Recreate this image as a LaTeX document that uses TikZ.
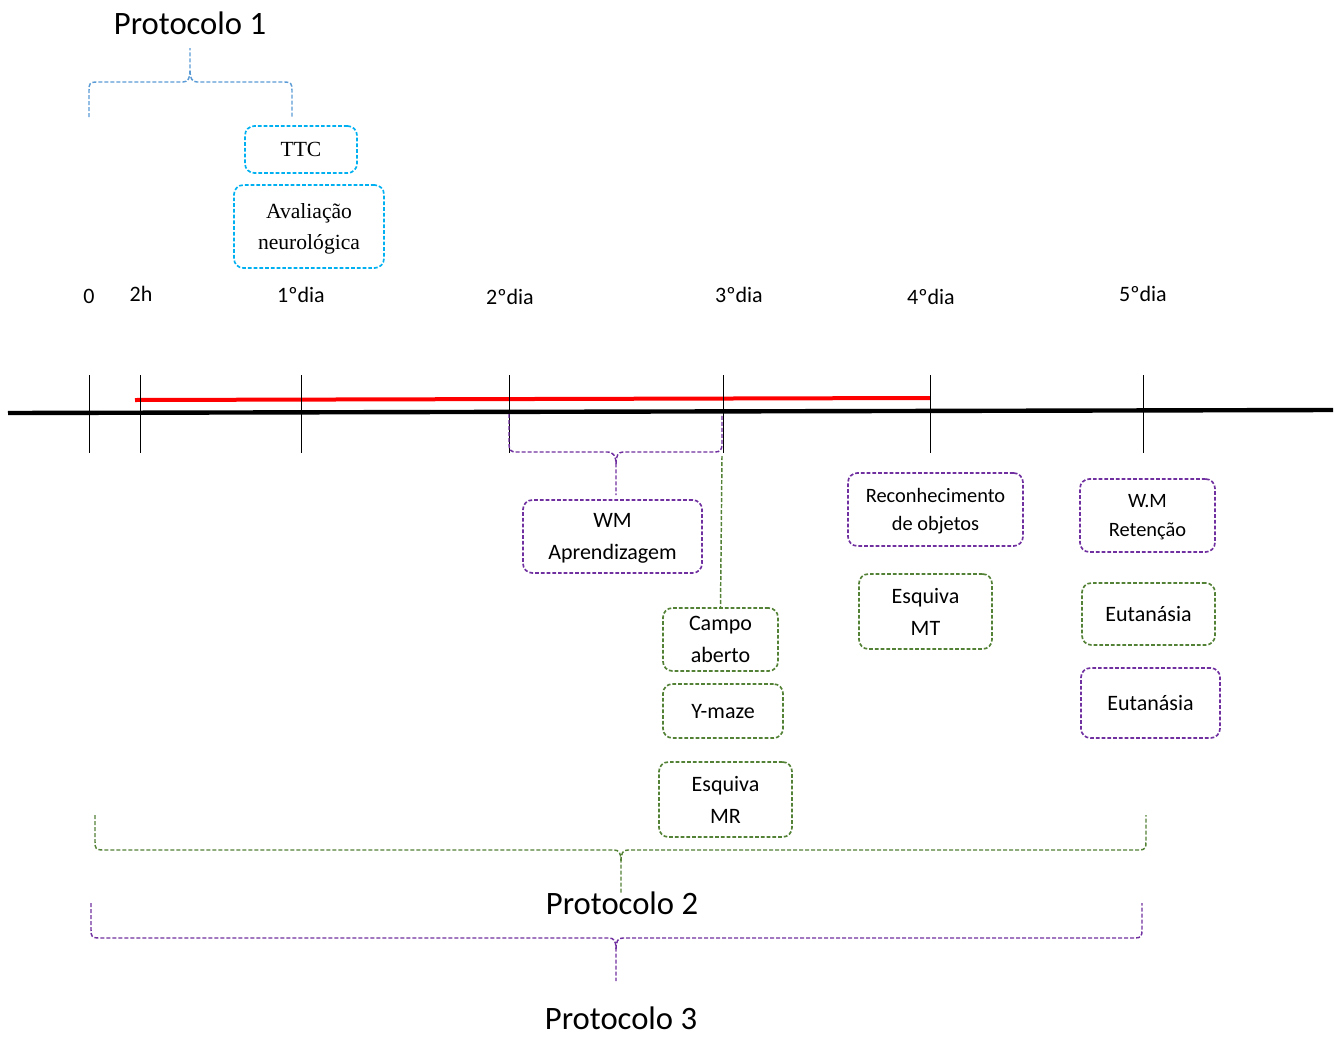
\documentclass[tikz,border=0pt]{standalone}
\usepackage{fontspec}
\setmainfont{Carlito}
\newfontfamily\tnr{Liberation Serif}
\definecolor{pblue}{HTML}{5B9BD5}
\definecolor{pcyan}{HTML}{00B0F0}
\definecolor{ppurple}{HTML}{7030A0}
\definecolor{pgreen}{HTML}{538135}
\begin{document}
\begin{tikzpicture}[x=0.75pt,y=-0.75pt,
  box/.style={draw, rounded corners=7pt, dash pattern=on 2.8pt off 1.5pt, line width=1.25pt,
    inner sep=0pt, align=center, text depth=0pt, font=\fontsize{16.5}{24}\selectfont},
  sbox/.style={box, font=\fontsize{15.3}{21.5}\selectfont},
  tbox/.style={box, font=\tnr\fontsize{16.2}{23.5}\selectfont},
  brace/.style={dash pattern=on 3pt off 1.5pt, line width=1.1pt},
  tickline/.style={line width=0.7pt},
  lbl/.style={font=\fontsize{16.5}{20}\selectfont, inner sep=0pt},
  proto/.style={font=\fontsize{24.5}{30}\selectfont, inner sep=0pt}]
\useasboundingbox (0,0) rectangle (1336,1039);

% main timeline
\coordinate (tlA) at (8,413);
\coordinate (tlB) at (1333,410);
\draw[line width=3.3pt] (tlA) -- (tlB);
% red line
\coordinate (rA) at (135,400);
\coordinate (rB) at (930,398);
\draw[red, line width=3pt] (rA) -- (rB);

% ticks
\foreach \n/\x in {t0/89, t1/140, t2/301, t3/509, t4/723, t5/930, t6/1143}{
  \coordinate (\n a) at (\x,375);
  \coordinate (\n b) at (\x,453);
  \draw[tickline] (\n a) -- (\n b);
}
\node[lbl] (l0) at (89,296) {0};
\node[lbl] (l1) at (141,294) {2h};
\node[lbl] (l2) at (301,295) {1ºdia};
\node[lbl] (l3) at (510,297) {2ºdia};
\node[lbl] (l4) at (739,295) {3ºdia};
\node[lbl] (l5) at (931,297) {4ºdia};
\node[lbl] (l6) at (1143,294) {5ºdia};

% Protocolo 1
\node[proto] (p1) at (190,23) {Protocolo 1};
\coordinate (b1L) at (89,117);
\coordinate (b1T) at (190,48);
\coordinate (b1R) at (292,117);
\draw[brace, pblue] (b1L) -- (89,90) .. controls (89,84) and (90,82) .. (96,82) -- (183,82)
  .. controls (188,82) and (190,78) .. (190,71) -- (b1T);
\draw[brace, pblue] (190,71) .. controls (190,78) and (192,82) .. (197,82) -- (285,82)
  .. controls (291,82) and (292,84) .. (292,90) -- (b1R);

\node[tbox, pcyan, minimum width=84pt, minimum height=35.25pt] (ttc) at (301,149.5) {\color{black}TTC};
\node[tbox, pcyan, minimum width=112.5pt, minimum height=62.25pt] (aval) at (309,226.5) {\color{black}Avaliação\\\color{black}neurológica};

% WM brace
\coordinate (bwL) at (509,414);
\coordinate (bwR) at (722,414);
\node[box, ppurple, minimum width=134.25pt, minimum height=54.75pt] (wm) at (612.5,536.5) {\color{black}WM\\\color{black}Aprendizagem};
\coordinate (bwT) at (616,495);
\draw[brace, ppurple] (bwL) -- (509,444) .. controls (509,450) and (511,452) .. (516,452) -- (608,452)
  .. controls (613,452) and (616,456) .. (616,464) -- (bwT);
\draw[brace, ppurple] (616,464) .. controls (616,456) and (618,452) .. (623,452) -- (715,452)
  .. controls (720,452) and (722,450) .. (722,444) -- (bwR);

% day 3 boxes
\node[box, pgreen, minimum width=86.25pt, minimum height=47.25pt] (campo) at (720.5,639.5) {\color{black}Campo\\\color{black}aberto};
\node[box, pgreen, minimum width=90pt, minimum height=40.5pt] (ymaze) at (723,711) {\color{black}Y-maze};
\node[box, pgreen, minimum width=99.75pt, minimum height=56.25pt] (esqmr) at (725.5,799.5) {\color{black}Esquiva\\\color{black}MR};
\coordinate (g3) at (722,456);
\draw[brace, pgreen] (g3) -- (campo.north);

% day 4 boxes
\node[sbox, ppurple, minimum width=131.25pt, minimum height=54.75pt] (recon) at (935.5,509.5) {\color{black}Reconhecimento\\\color{black}de objetos};
\node[box, pgreen, minimum width=99.75pt, minimum height=56.25pt] (esqmt) at (925.5,611.5) {\color{black}Esquiva\\\color{black}MT};

% day 5 boxes
\node[sbox, ppurple, minimum width=101.25pt, minimum height=54.75pt] (wmr) at (1147.5,515.5) {\color{black}W.M\\\color{black}Retenção};
\node[box, pgreen, minimum width=99.75pt, minimum height=46.5pt] (eutg) at (1148.5,614) {\color{black}Eutanásia};
\node[box, ppurple, minimum width=104.25pt, minimum height=52.5pt] (eutp) at (1150.5,703) {\color{black}Eutanásia};

% Protocolo 2 brace
\node[proto] (p2) at (622,903) {Protocolo 2};
\coordinate (b2L) at (95,815);
\coordinate (b2R) at (1146,815);
\coordinate (b2T) at (621,893);
\draw[brace, pgreen] (b2L) -- (95,842) .. controls (95,848) and (96,850) .. (102,850) -- (614,850)
  .. controls (619,850) and (621,853) .. (621,861) -- (b2T);
\draw[brace, pgreen] (621,861) .. controls (621,853) and (623,850) .. (628,850) -- (1139,850)
  .. controls (1145,850) and (1146,848) .. (1146,842) -- (b2R);

% Protocolo 3 brace
\node[proto] (p3) at (621,1018) {Protocolo 3};
\coordinate (b3L) at (91,903);
\coordinate (b3R) at (1142,903);
\coordinate (b3T) at (616,981);
\draw[brace, ppurple] (b3L) -- (91,930) .. controls (91,936) and (92,938) .. (98,938) -- (609,938)
  .. controls (614,938) and (616,941) .. (616,949) -- (b3T);
\draw[brace, ppurple] (616,949) .. controls (616,941) and (618,938) .. (623,938) -- (1135,938)
  .. controls (1141,938) and (1142,936) .. (1142,930) -- (b3R);
\end{tikzpicture}
\end{document}
